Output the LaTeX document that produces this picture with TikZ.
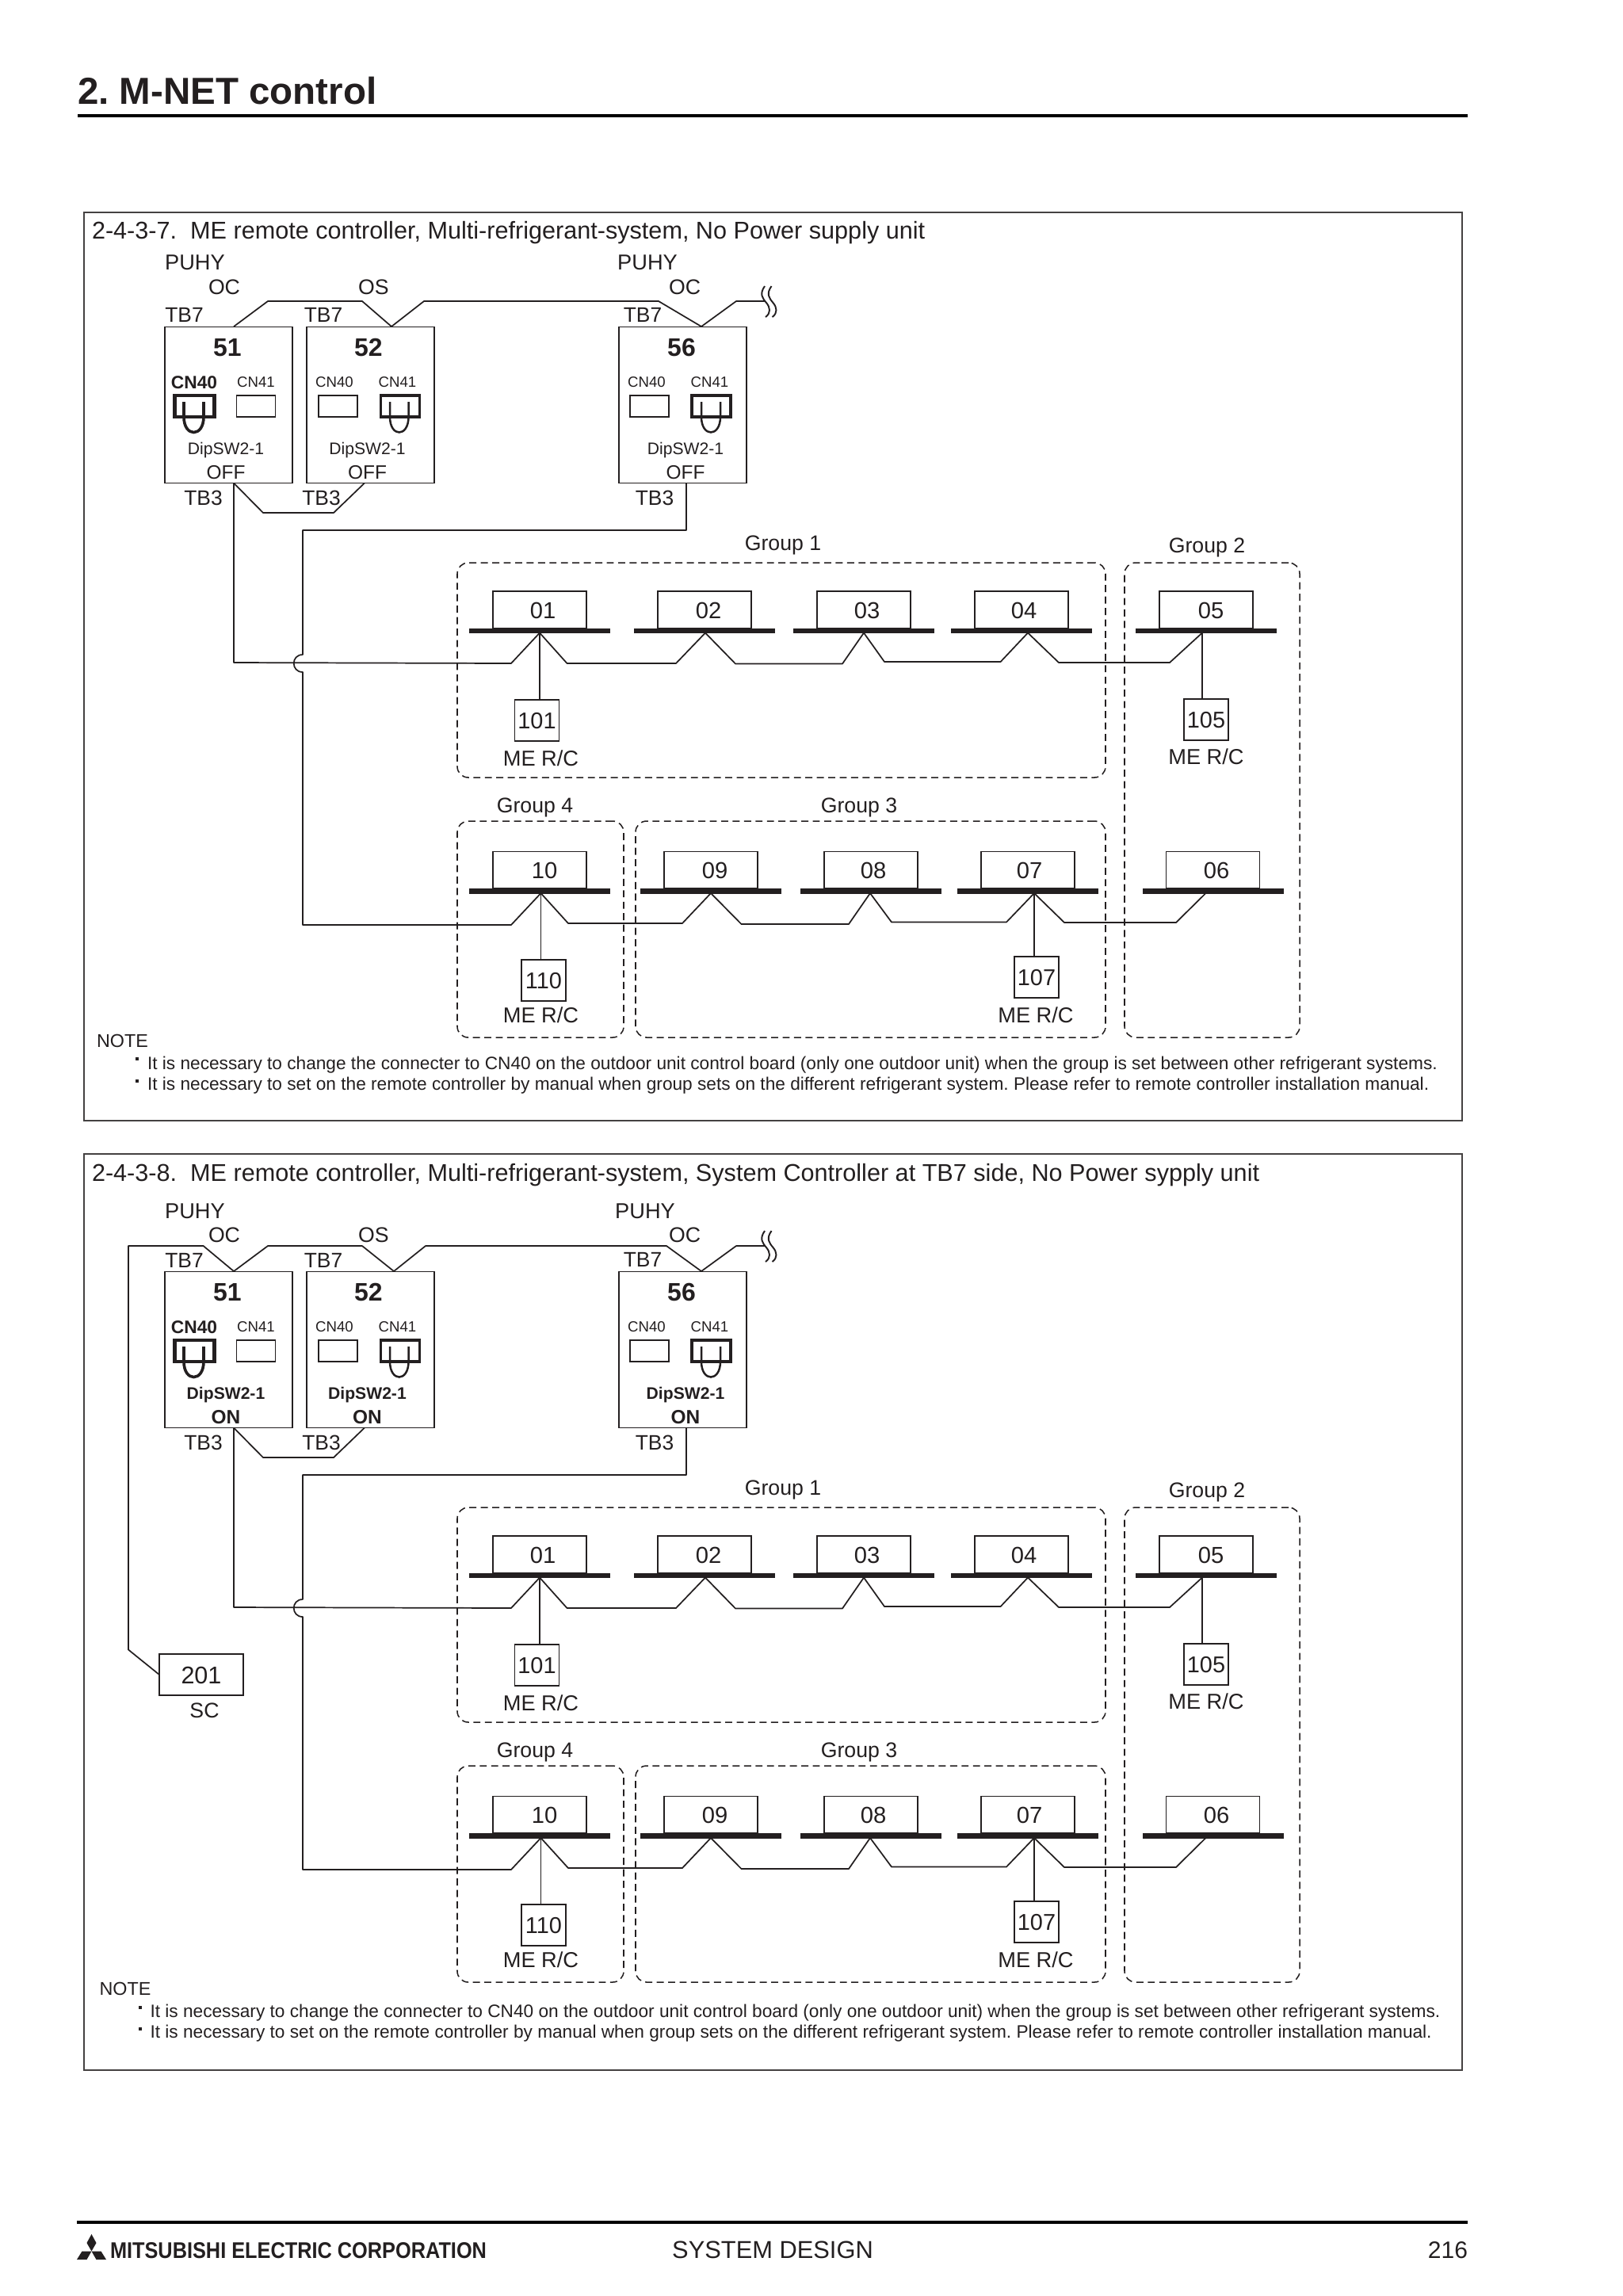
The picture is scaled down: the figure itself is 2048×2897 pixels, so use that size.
\documentclass[tikz,border=0pt]{standalone}
\usepackage{fontspec}
\setmainfont{Liberation Sans}
\usetikzlibrary{calc}
\definecolor{ink}{HTML}{231F20}
\newcommand{\pxu}{0.36pt}
\frenchspacing
\tikzset{
  txt/.style={font=\fontsize{#1pt}{#1pt}\selectfont, text=ink, inner sep=0pt, outer sep=0pt, text height=#1*0.72pt, text depth=0pt},
  btxt/.style={font=\fontsize{#1pt}{#1pt}\selectfont\bfseries, text=ink, inner sep=0pt, outer sep=0pt, text height=#1*0.72pt, text depth=0pt},
  wire/.style={draw=ink, line width=0.62pt, line join=round},
  framebox/.style={draw=ink!85, line width=0.65pt, inner sep=0pt, outer sep=0pt, anchor=north west},
  unitbox/.style={draw=ink, line width=0.6pt, inner sep=0pt, outer sep=0pt, anchor=north west, minimum width=161*\pxu, minimum height=197*\pxu},
  groupbox/.style={draw=ink, line width=0.55pt, dash pattern=on 3.2pt off 2pt, rounded corners=5pt, inner sep=0pt, outer sep=0pt, anchor=north west},
  idbox/.style={draw=ink, line width=0.62pt, inner sep=0pt, outer sep=0pt, anchor=north west, minimum width=118*\pxu, minimum height=46.5*\pxu},
  idbar/.style={fill=ink, inner sep=0pt, outer sep=0pt, anchor=north west, minimum width=178*\pxu, minimum height=6.5*\pxu},
  rcbox/.style={draw=ink, line width=0.62pt, inner sep=0pt, outer sep=0pt, anchor=north west, minimum width=56*\pxu, minimum height=52*\pxu, txt=10.4},
  cnplain/.style={draw=ink, line width=0.55pt, inner sep=0pt, outer sep=0pt, minimum width=49*\pxu, minimum height=27*\pxu},
  cnbold/.style={draw=ink, line width=#1, inner sep=0pt, outer sep=0pt, minimum width=49*\pxu, minimum height=27*\pxu},
}
% id, bar left, label x, apex x, box top
\newcommand{\indoor}[5]{%
  \node[idbox] (i#1) at ({#2+30},#5) {};
  \node[idbar] (s#1) at (#2,{#5+46.5}) {};
  \node[txt=10.5] (l#1) at (#3,{#5+23.5}) {#1};
  \coordinate (a#1) at (#4,{#5+52.5});
}
% id, box x, box y, label x, label y
\newcommand{\rc}[5]{%
  \node[rcbox] (r#1) at (#2,#3) {#1};
  \node[txt=9.8] (m#1) at (#4,#5) {ME R/C};
}
\newcommand{\uloop}[3]{%
  \draw[draw=ink, line width=#3] (#1,507) -- (#1,526) .. controls (#1,552) and (#2,552) .. (#2,526) -- (#2,507);
}
% name, x left, number x, switch style, text x
\newcommand{\outdoor}[5]{%
  \node[unitbox] (u#1) at (#2,412.5) {};
  \node[btxt=11.5] (n#1) at (#3,438) {#1};
  \node[#4=7.6] (d#1) at (#5,566) {DipSW2-1};
}
% common part of the two diagrams; #1 switch style, #2 switch text
\newcommand{\diagram}[2]{%
  \node[groupbox, minimum width=818*\pxu, minimum height=271*\pxu] (g1) at (577,710) {};
  \node[groupbox, minimum width=221*\pxu, minimum height=599*\pxu] (g2) at (1419,710) {};
  \node[groupbox, minimum width=210*\pxu, minimum height=273*\pxu] (g4) at (577,1036) {};
  \node[groupbox, minimum width=593*\pxu, minimum height=273*\pxu] (g3) at (802,1036) {};
  \node[txt=9.6] (t1) at (988,685) {Group 1};
  \node[txt=9.6] (t2) at (1523,688) {Group 2};
  \node[txt=9.6] (t4) at (675,1016) {Group 4};
  \node[txt=9.6] (t3) at (1084,1016) {Group 3};
  % outdoor units
  \outdoor{51}{208}{287}{#1}{285}
  \outdoor{52}{387}{465}{#1}{463.5}
  \outdoor{56}{781}{860}{#1}{865}
  \node[#1=8.8] (o51) at (285,596) {#2};
  \node[#1=8.8] (o52) at (463.5,596) {#2};
  \node[#1=8.8] (o56) at (865,596) {#2};
  % connectors
  \node[btxt=8.2] (c51a) at (245,482) {CN40};
  \node[txt=6.7] (c51b) at (323,482) {CN41};
  \node[cnbold=1.5pt, minimum width=50*\pxu] (k51a) at (245.5,512.5) {};
  \node[cnplain] (k51b) at (323,512.5) {};
  \uloop{232}{257}{1.3pt}
  \node[txt=6.7] (c52a) at (422,482) {CN40};
  \node[txt=6.7] (c52b) at (501.5,482) {CN41};
  \node[cnplain] (k52a) at (426.5,512.5) {};
  \node[cnbold=1.15pt] (k52b) at (505,512.5) {};
  \uloop{492}{515.5}{0.9pt}
  \node[txt=6.7] (c56a) at (816,482) {CN40};
  \node[txt=6.7] (c56b) at (895.5,482) {CN41};
  \node[cnplain] (k56a) at (819.5,512.5) {};
  \node[cnbold=1.15pt] (k56b) at (897.5,512.5) {};
  \uloop{885}{909}{0.9pt}
  % TB3 labels
  \node[txt=9.5] (tb3a) at (256.5,628) {TB3};
  \node[txt=9.5] (tb3b) at (405.5,628) {TB3};
  \node[txt=9.5] (tb3c) at (826,628) {TB3};
  \coordinate (b51) at (295,609.5);
  \coordinate (b52) at (460,609.5);
  \coordinate (b56) at (866,609.5);
  \draw[wire] (b51) -- (332,647) -- (421,647) -- (b52);
  % indoor units
  \indoor{01}{592}{685}{681}{746}
  \indoor{02}{800}{894}{890}{746}
  \indoor{03}{1001}{1094}{1090}{746}
  \indoor{04}{1200}{1292}{1297}{746}
  \indoor{05}{1433}{1528}{1517}{746}
  \indoor{10}{592}{687}{682.5}{1074.5}
  \indoor{09}{808}{902}{897}{1074.5}
  \indoor{08}{1010}{1102}{1098}{1074.5}
  \indoor{07}{1208}{1299}{1305}{1074.5}
  \indoor{06}{1441.5}{1535}{1521.5}{1074.5}
  % remote controllers
  \rc{101}{649.5}{883}{682.5}{957}
  \rc{105}{1494}{882}{1522}{955}
  \rc{110}{658}{1211}{682.5}{1281}
  \rc{107}{1280}{1207}{1307}{1281}
  \draw[wire] (a01) -- (r101.north -| a01);
  \draw[wire] (a05) -- (r105.north -| a05);
  \draw[wire] (a10) -- (r110.north -| a10);
  \draw[wire] (a07) -- (r107.north -| a07);
  % main lines
  \draw[wire] (b51) -- (295,836) -- (645,837) -- (a01) -- (715.5,837) -- (853,837) -- (a02) -- (928,837.5) -- (1063,837.5) -- (a03) -- (1116,835) -- (1262.6,835) -- (a04) -- (1336,836) -- (1476,836) -- (a05);
  \draw[wire] (b56) -- (866,669) -- (382,669) -- (382,826) .. controls (367,826) and (367,848) .. (382,848) -- (382,1167) -- (645,1167) -- (a10) -- (717,1165) -- (861,1165) -- (a09) -- (935.5,1166) -- (1071,1166) -- (a08) -- (1125,1163.5) -- (1270,1163.5) -- (a07) -- (1343,1164) -- (1484,1164) -- (a06);
}
\newcommand{\squiggle}[2]{%
  \draw[draw=ink, line width=0.7pt] (#1,#2) .. controls ({#1-7},{#2+10}) and ({#1-3},{#2+15}) .. ({#1+2},{#2+21}) .. controls ({#1+7},{#2+27}) and ({#1+8},{#2+34}) .. ({#1+1},{#2+39});
  \draw[draw=ink, line width=0.7pt] ({#1+8.5},#2) .. controls ({#1+1.5},{#2+10}) and ({#1+5.5},{#2+15}) .. ({#1+10.5},{#2+21}) .. controls ({#1+15.5},{#2+27}) and ({#1+16.5},{#2+34}) .. ({#1+9.5},{#2+39});
}
\begin{document}
\begin{tikzpicture}[x=0.36pt,y=-0.36pt]
\useasboundingbox (0,0) rectangle (2048,2897);
\fill[white] (0,0) rectangle (2048,2897);
% page head
\node[btxt=17.1, anchor=west] (head) at (98,114) {2. M-NET control};
\coordinate (hl) at (98,146);
\coordinate (hr) at (1852,146);
\draw[draw=black, line width=1.1pt] (hl) -- (hr);
% frames
\node[framebox, minimum width=1739*\pxu, minimum height=1146*\pxu] (f1) at (106,268) {};
\node[framebox, minimum width=1739*\pxu, minimum height=1156*\pxu] (f2) at (106,1456) {};
\node[txt=11.02, anchor=west] (title1) at (116,290.5) {2-4-3-7.\ \ ME remote controller, Multi-refrigerant-system, No Power supply unit};
\node[txt=11.02, anchor=west] (title2) at (116,1479.5) {2-4-3-8.\ \ ME remote controller, Multi-refrigerant-system, System Controller at TB7 side, No Power sypply unit};
% first diagram
\begin{scope}[name prefix=A-]
  \diagram{txt}{OFF}
  \node[txt=9.8] (p1) at (246,331) {PUHY};
  \node[txt=9.8] (p2) at (817,331) {PUHY};
  \node[txt=9.6] (oc1) at (283,362) {OC};
  \node[txt=9.6] (os1) at (471.5,362) {OS};
  \node[txt=9.6] (oc2) at (864,362) {OC};
  \node[txt=9.5] (tb7a) at (232.5,397) {TB7};
  \node[txt=9.5] (tb7b) at (408,397) {TB7};
  \node[txt=9.5] (tb7c) at (811,397) {TB7};
  \coordinate (t51) at (295,412);
  \coordinate (t52) at (494,412);
  \coordinate (t56) at (885,412);
  \coordinate (e) at (965,380);
  \draw[wire] (t51) -- (338,380) -- (457,380) -- (t52) -- (535,380) -- (831,380) -- (t56) -- (929,380) -- (e);
  \squiggle{965}{361}
\end{scope}
% second diagram
\begin{scope}[shift={(0,1192)}, name prefix=B-]
  \diagram{btxt}{ON}
  \node[txt=9.8] (p1) at (246,336) {PUHY};
  \node[txt=9.8] (p2) at (814,336) {PUHY};
  \node[txt=9.6] (oc1) at (283,366) {OC};
  \node[txt=9.6] (os1) at (471.5,366) {OS};
  \node[txt=9.6] (oc2) at (864,366) {OC};
  \node[txt=9.5] (tb7a) at (232.5,398) {TB7};
  \node[txt=9.5] (tb7b) at (408,398) {TB7};
  \node[txt=9.5] (tb7c) at (811,397) {TB7};
  \coordinate (t51) at (295,412);
  \coordinate (t52) at (497,412);
  \coordinate (t56) at (885,412);
  \coordinate (e) at (965,380);
  \node[draw=ink, line width=0.6pt, inner sep=0pt, outer sep=0pt, anchor=north west, minimum width=106*\pxu, minimum height=52*\pxu, txt=11] (sc) at (201,895) {201};
  \node[txt=9.6] (sct) at (258,966) {SC};
  \draw[wire] (sc.west) -- (162,889.5) -- (162,380) -- (256.6,380) -- (t51) -- (338,380) -- (457,380) -- (t52) -- (537,380) -- (841,380) -- (t56) -- (929,380) -- (e);
  \squiggle{965}{361}
\end{scope}
% notes
\node[txt=8.4, anchor=west] (note1) at (122,1313) {NOTE};
\node[fill=ink, inner sep=0pt, minimum size=1.4pt] (bu1) at (173,1336) {};
\node[fill=ink, inner sep=0pt, minimum size=1.4pt] (bu2) at (173,1364) {};
\node[txt=8.16, anchor=west] (n11) at (186,1341) {It is necessary to change the connecter to CN40 on the outdoor unit control board (only one outdoor unit) when the group is set between other refrigerant systems.};
\node[txt=8.16, anchor=west] (n12) at (186,1367) {It is necessary to set on the remote controller by manual when group sets on the different refrigerant system. Please refer to remote controller installation manual.};
\node[txt=8.4, anchor=west] (note2) at (125.5,2509) {NOTE};
\node[fill=ink, inner sep=0pt, minimum size=1.4pt] (bu3) at (177,2533) {};
\node[fill=ink, inner sep=0pt, minimum size=1.4pt] (bu4) at (177,2560) {};
\node[txt=8.16, anchor=west] (n21) at (189.5,2537) {It is necessary to change the connecter to CN40 on the outdoor unit control board (only one outdoor unit) when the group is set between other refrigerant systems.};
\node[txt=8.16, anchor=west] (n22) at (189.5,2563) {It is necessary to set on the remote controller by manual when group sets on the different refrigerant system. Please refer to remote controller installation manual.};
% footer
\coordinate (fl) at (97,2804);
\coordinate (fr) at (1852,2804);
\draw[draw=black, line width=1.4pt] (fl) -- (fr);
\fill[ink] (115.5,2819) -- (121.5,2830) -- (115.5,2840.5) -- (109.5,2830) -- cycle;
\fill[ink] (115.5,2840.5) -- (121.5,2851) -- (134,2851) -- (127.5,2840.5) -- cycle;
\fill[ink] (115.5,2840.5) -- (109.5,2851) -- (97,2851) -- (103.5,2840.5) -- cycle;
\node[btxt=10.3, anchor=west] (logo) at (139,2839.5) {\scalebox{0.885}[1]{MITSUBISHI ELECTRIC CORPORATION}};
\node[txt=11.1] (sys) at (975,2838.5) {SYSTEM DESIGN};
\node[txt=10.8, anchor=east] (pg) at (1852,2838.5) {216};
\end{tikzpicture}
\end{document}
